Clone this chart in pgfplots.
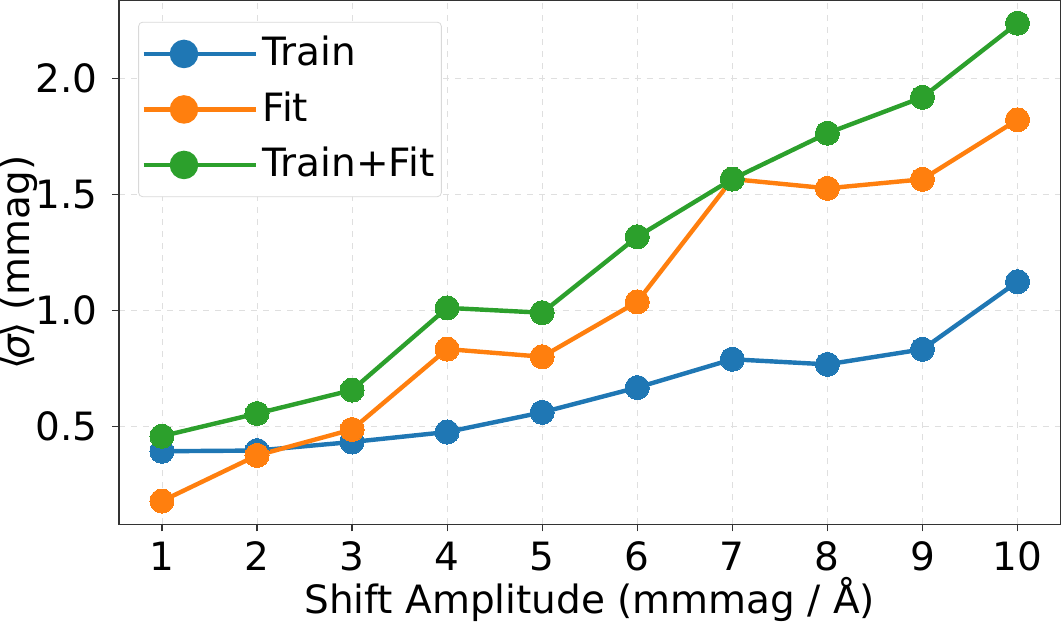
\documentclass[border=0pt]{standalone}
\usepackage{fontspec}
\setmainfont{DejaVu Sans}
\usepackage{pgfplots}
\pgfplotsset{compat=1.18}
\definecolor{c0}{HTML}{1F77B4}
\definecolor{c1}{HTML}{FF7F0E}
\definecolor{c2}{HTML}{2CA02C}
\begin{document}
\fontsize{19.5}{23}\selectfont
\begin{tikzpicture}
\begin{axis}[
  scale only axis,
  width=469bp, height=261bp,
  xmin=0.55, xmax=10.45, ymin=0.076, ymax=2.337,
  xtick={1,2,3,4,5,6,7,8,9,10},
  ytick={0.5,1.0,1.5,2.0},
  yticklabel style={anchor=east, inner sep=0pt, xshift=-7bp, /pgf/number format/.cd, fixed, fixed zerofill, precision=1},
  /pgf/number format/assume math mode=true,
  tick align=outside, major tick length=3.5bp,
  tick style={black!80, line width=0.6bp},
  xtick pos=bottom, ytick pos=left,
  axis line style={black!80, line width=0.7bp},
  grid=major,
  major grid style={gray!25, dashed, line width=0.4bp},
  xlabel={Shift Amplitude (mmmag / Å)},
  ylabel={⟨\kern-2.5bp\textit{σ}\kern-2bp⟩ (mmag)},
  ticklabel style={font=\fontsize{19.5}{23}\selectfont},
  xticklabel style={anchor=base, inner sep=0pt, yshift=-19.5bp},
  label style={font=\fontsize{19.5}{23}\selectfont},
  xlabel style={at={(rel axis cs:0.5,0)}, anchor=base, inner sep=0pt, yshift=-44.5bp},
  ylabel style={at={(rel axis cs:0,0.5)}, anchor=center, inner sep=0pt, yshift=50bp},
  legend style={at={(rel axis cs:0,1)}, anchor=north west, xshift=9.5bp, yshift=-10.5bp,
    draw=gray!30, rounded corners=2bp, fill=white,
    font=\fontsize{19.5}{23}\selectfont, row sep=6bp, inner xsep=1.5bp, inner ysep=5bp},
  legend cell align=left,
  legend image code/.code={
    \path (0bp,0bp) -- (56bp,0bp);
    \draw[#1, line width=2.2bp] (0bp,0bp) -- (40bp,0bp);
    \fill[#1] (20bp,0bp) circle (6bp);
  },
  every axis plot/.append style={line width=2.2bp, mark=*, mark size=6bp},
]
\addplot[c0, mark options={fill=c0, draw=c0, line width=0pt}] coordinates {
(1,0.392) (2,0.395) (3,0.432) (4,0.475) (5,0.560) (6,0.667) (7,0.789) (8,0.767) (9,0.832) (10,1.124)};
\addlegendentry{Train}
\addplot[c1, mark options={fill=c1, draw=c1, line width=0pt}] coordinates {
(1,0.177) (2,0.374) (3,0.486) (4,0.833) (5,0.800) (6,1.037) (7,1.567) (8,1.527) (9,1.566) (10,1.823)};
\addlegendentry{Fit}
\addplot[c2, mark options={fill=c2, draw=c2, line width=0pt}] coordinates {
(1,0.457) (2,0.555) (3,0.656) (4,1.011) (5,0.990) (6,1.318) (7,1.567) (8,1.765) (9,1.920) (10,2.240)};
\addlegendentry{Train+Fit}
\end{axis}
\end{tikzpicture}
\end{document}
